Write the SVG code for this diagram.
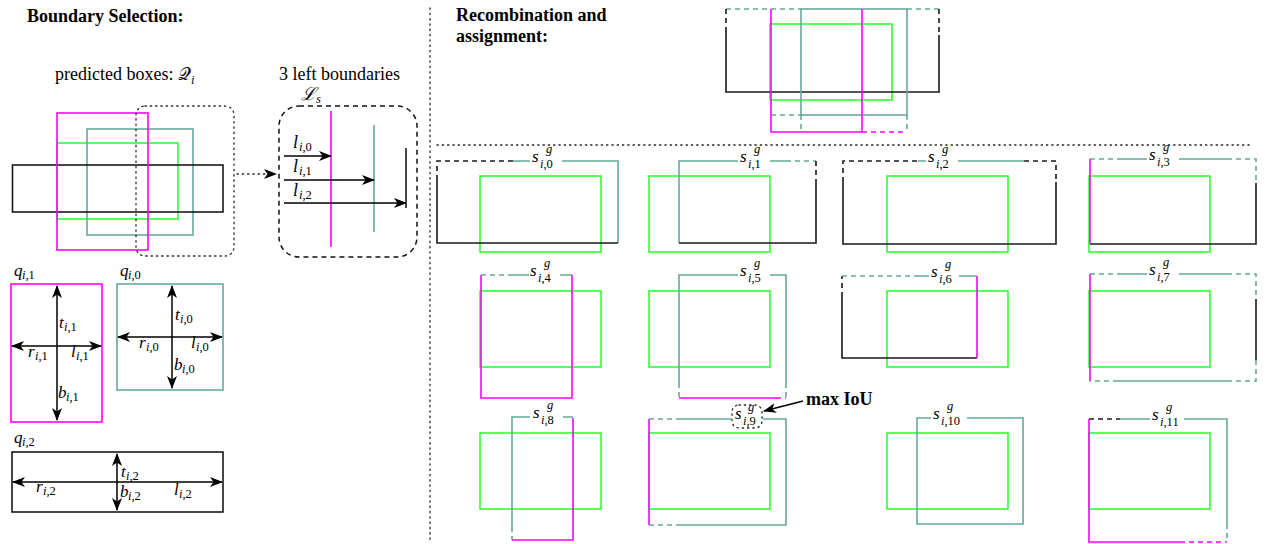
<svg xmlns="http://www.w3.org/2000/svg" width="1266" height="544" viewBox="0 0 1266 544">
<defs>
<marker id="ah" markerUnits="userSpaceOnUse" markerWidth="13" markerHeight="10" refX="12" refY="5" orient="auto-start-reverse" viewBox="0 0 13 10">
<path d="M0,0 L13,5 L0,10 L3.5,5 z" fill="#000"/>
</marker>
</defs>
<style>
.k{fill:none;stroke:#1a1a1a;stroke-width:1.6}
.kd{fill:none;stroke:#1a1a1a;stroke-width:1.6;stroke-dasharray:5 4}
.m{fill:none;stroke:#ff00ff;stroke-width:1.6}
.md{fill:none;stroke:#ff00ff;stroke-width:1.6;stroke-dasharray:5 4}
.t{fill:none;stroke:#66a99b;stroke-width:1.6}
.td{fill:none;stroke:#66a99b;stroke-width:1.6;stroke-dasharray:5 4}
.g{fill:none;stroke:#33ff33;stroke-width:1.6}
.ar{fill:none;stroke:#000;stroke-width:1.5;marker-end:url(#ah)}
.ar2{fill:none;stroke:#000;stroke-width:1.5;marker-end:url(#ah);marker-start:url(#ah)}
.dot{fill:none;stroke:#222;stroke-width:1.3;stroke-dasharray:1.3 4;stroke-linecap:round}
.ti{font-family:"Liberation Serif",serif;font-weight:bold;font-size:18px;fill:#000}
.tx{font-family:"Liberation Serif",serif;font-size:18px;fill:#000}
.mi{font-family:"Liberation Serif",serif;font-style:italic;font-size:18px;fill:#000}
.ms{font-family:"Liberation Serif",serif;font-style:italic;font-size:17px;fill:#000}
.sb{font-family:"Liberation Serif",serif;font-style:italic;font-size:12.5px;fill:#000}
.up{font-style:normal}
</style>
<rect width="1266" height="544" fill="#fff"/>

<g id="titles">
<text class="ti" x="27" y="22">Boundary Selection:</text>
<text class="tx" x="55" y="80">predicted boxes: 𝒬<tspan class="sb" dy="4">i</tspan></text>
<text class="tx" x="279" y="80">3 left boundaries</text>
<text class="ti" x="456" y="21">Recombination and</text>
<text class="ti" x="456" y="42">assignment:</text>
</g>

<g id="predicted-boxes">
<rect class="g" x="57" y="143" width="121" height="76"/>
<rect class="t" x="87" y="129" width="106" height="106"/>
<rect class="k" x="12.5" y="165" width="210.5" height="47"/>
<rect class="m" x="57" y="113" width="91" height="137"/>
<rect class="dot" x="136" y="106" width="98" height="150" rx="9"/>
</g>

<g id="left-boundaries">
<rect fill="none" stroke="#111" stroke-width="1.5" stroke-dasharray="5 4" x="279" y="106" width="138" height="151" rx="20"/>
<text class="mi" x="301" y="100">ℒ<tspan class="sb" dy="3">s</tspan></text>
<line class="m" x1="331" y1="111" x2="331" y2="247"/>
<line class="t" x1="374" y1="125" x2="374" y2="232"/>
<line class="k" x1="406" y1="148" x2="406" y2="208" stroke-width="2"/>
<line class="ar" x1="284" y1="156" x2="331" y2="156"/>
<line class="ar" x1="284" y1="180" x2="374" y2="180" stroke-width="1.3"/>
<line class="ar" x1="284" y1="203" x2="406" y2="203" stroke-width="2.2"/>
<text class="mi" x="293" y="148">l</text><text class="sb" x="299" y="151">i<tspan class="up">,0</tspan></text>
<text class="mi" x="293" y="172">l</text><text class="sb" x="299" y="175">i<tspan class="up">,1</tspan></text>
<text class="mi" x="293" y="196">l</text><text class="sb" x="299" y="199">i<tspan class="up">,2</tspan></text>
</g>

<g id="q1">
<text class="ms" x="14" y="276">q</text><text class="sb" x="22" y="279">i<tspan class="up">,1</tspan></text>
<rect class="m" x="11" y="284" width="91" height="138"/>
<line class="ar2" x1="57" y1="286" x2="57" y2="420"/>
<line class="ar2" x1="12" y1="346" x2="101" y2="346"/>
<text class="ms" x="59" y="328">t</text><text class="sb" x="64" y="331">i<tspan class="up">,1</tspan></text>
<text class="ms" x="28" y="357">r</text><text class="sb" x="35" y="360">i<tspan class="up">,1</tspan></text>
<text class="ms" x="71" y="357">l</text><text class="sb" x="76" y="360">i<tspan class="up">,1</tspan></text>
<text class="ms" x="58" y="398">b</text><text class="sb" x="66" y="401">i<tspan class="up">,1</tspan></text>
</g>

<g id="q0">
<text class="ms" x="120" y="276">q</text><text class="sb" x="128" y="279">i<tspan class="up">,0</tspan></text>
<rect class="t" x="117" y="284" width="106" height="106"/>
<line class="ar2" x1="172" y1="286" x2="172" y2="388"/>
<line class="ar2" x1="118" y1="337" x2="222" y2="337"/>
<text class="ms" x="175" y="320">t</text><text class="sb" x="180" y="323">i<tspan class="up">,0</tspan></text>
<text class="ms" x="139" y="348">r</text><text class="sb" x="146" y="351">i<tspan class="up">,0</tspan></text>
<text class="ms" x="191" y="348">l</text><text class="sb" x="196" y="351">i<tspan class="up">,0</tspan></text>
<text class="ms" x="174" y="370">b</text><text class="sb" x="182" y="373">i<tspan class="up">,0</tspan></text>
</g>

<g id="q2">
<text class="ms" x="14" y="443">q</text><text class="sb" x="22" y="446">i<tspan class="up">,2</tspan></text>
<rect class="k" x="12" y="452" width="211" height="60"/>
<line class="ar2" x1="117" y1="454" x2="117" y2="510"/>
<line class="ar2" x1="13" y1="482" x2="222" y2="482"/>
<text class="ms" x="121" y="477">t</text><text class="sb" x="126" y="480">i<tspan class="up">,2</tspan></text>
<text class="ms" x="36" y="492">r</text><text class="sb" x="43" y="495">i<tspan class="up">,2</tspan></text>
<text class="ms" x="120" y="497">b</text><text class="sb" x="128" y="500">i<tspan class="up">,2</tspan></text>
<text class="ms" x="174" y="495">l</text><text class="sb" x="179" y="498">i<tspan class="up">,2</tspan></text>
</g>

<g id="composite">
<rect class="g" x="770" y="24" width="122" height="76"/>
<path class="td" d="M726,9 H801 M907,9 H939"/>
<path class="kd" d="M726,9 V31 M939,9 V35"/>
<path class="k" d="M726,31 V92 H939 V35"/>
<rect class="t" x="801" y="9" width="106" height="106"/>
<path class="td" d="M771,115 H801 M801,115 V132 M907,115 V132"/>
<path class="m" d="M771,9 V132 H862 M862,9 V132"/>
<path class="md" d="M862,132 H907"/>
</g>

<g id="s0">
<rect class="g" x="480" y="176" width="121" height="76"/>
<path class="kd" d="M437,180 V161 H513"/>
<path class="t" d="M513,161 H530 M562,161 H618 V243"/>
<path class="k" d="M437,180 V243 H618"/>
<text class="ms" x="532" y="162">s</text><text class="sb" x="546" y="153">g</text><text class="sb" x="540" y="168">i<tspan class="up">,0</tspan></text>
</g>
<g id="s1">
<rect class="g" x="649" y="176" width="121" height="76"/>
<path class="t" d="M738,161 H679 V243 M770,161 H786"/>
<path class="td" d="M786,161 H816"/>
<path class="kd" d="M816,161 V180"/>
<path class="k" d="M816,180 V243 H679"/>
<text class="ms" x="740" y="162">s</text><text class="sb" x="754" y="153">g</text><text class="sb" x="748" y="168">i<tspan class="up">,1</tspan></text>
</g>
<g id="s2">
<rect class="g" x="887" y="176" width="121" height="76"/>
<path class="kd" d="M843,182 V161 H918 M1024,161 H1056 V182"/>
<path class="t" d="M918,161 H926 M958,161 H1024"/>
<path class="k" d="M843,182 V244 H1056 V182"/>
<text class="ms" x="928" y="162">s</text><text class="sb" x="942" y="153">g</text><text class="sb" x="936" y="168">i<tspan class="up">,2</tspan></text>
</g>
<g id="s3">
<rect class="g" x="1089" y="176" width="121" height="76"/>
<path class="td" d="M1090,159 H1120 M1227,159 H1256 V183"/>
<path class="t" d="M1120,159 H1147 M1179,159 H1227"/>
<path class="k" d="M1090,244 H1256 V183"/>
<path class="m" d="M1090,159 V244"/>
<text class="ms" x="1149" y="160">s</text><text class="sb" x="1163" y="151">g</text><text class="sb" x="1157" y="166">i<tspan class="up">,3</tspan></text>
</g>

<g id="s4">
<rect class="g" x="480" y="291" width="121" height="76"/>
<path class="td" d="M481,275 H510"/>
<path class="t" d="M510,275 H529 M560,275 H572"/>
<path class="m" d="M481,275 V398 H572 V275"/>
<text class="ms" x="530" y="276">s</text><text class="sb" x="544" y="267">g</text><text class="sb" x="538" y="282">i<tspan class="up">,4</tspan></text>
</g>
<g id="s5">
<rect class="g" x="649" y="291" width="121" height="76"/>
<path class="t" d="M738,275 H679 V383 M770,275 H786 V383"/>
<path class="td" d="M679,383 V398 M786,383 V398"/>
<path class="m" d="M679,398 H776"/>
<path class="md" d="M776,398 H786"/>
<text class="ms" x="740" y="276">s</text><text class="sb" x="754" y="267">g</text><text class="sb" x="748" y="282">i<tspan class="up">,5</tspan></text>
</g>
<g id="s6">
<rect class="g" x="887" y="291" width="121" height="76"/>
<path class="kd" d="M842,297 V276"/>
<path class="td" d="M842,276 H917"/>
<path class="t" d="M917,276 H929 M959,276 H977"/>
<path class="k" d="M842,297 V358 H977"/>
<path class="m" d="M977,276 V358"/>
<text class="ms" x="931" y="277">s</text><text class="sb" x="945" y="268">g</text><text class="sb" x="939" y="283">i<tspan class="up">,6</tspan></text>
</g>
<g id="s7">
<rect class="g" x="1089" y="291" width="121" height="76"/>
<path class="td" d="M1090,274 H1118 M1227,274 H1256 V299 M1256,360 V381 H1227 M1118,381 H1090"/>
<path class="t" d="M1118,274 H1147 M1179,274 H1227 M1118,381 H1227"/>
<path class="k" d="M1256,299 V360"/>
<path class="m" d="M1090,274 V381"/>
<text class="ms" x="1149" y="275">s</text><text class="sb" x="1163" y="266">g</text><text class="sb" x="1157" y="281">i<tspan class="up">,7</tspan></text>
</g>

<g id="s8">
<rect class="g" x="480" y="433" width="121" height="76"/>
<path class="t" d="M530,417 H512 V527 M563,417 H573"/>
<path class="td" d="M512,527 V540"/>
<path class="m" d="M573,418 V540 H512"/>
<text class="ms" x="533" y="418">s</text><text class="sb" x="547" y="409">g</text><text class="sb" x="541" y="424">i<tspan class="up">,8</tspan></text>
</g>
<g id="s9">
<rect class="g" x="649" y="433" width="121" height="76"/>
<path class="td" d="M649,419 H679 M649,525 H679"/>
<path class="t" d="M679,419 H731 M763,419 H786 V525 H679"/>
<path class="m" d="M649,419 V525"/>
<rect class="dot" x="732" y="405" width="30" height="23" rx="7"/>
<text class="ms" x="735" y="419">s</text><text class="sb" x="748" y="411">g</text><text class="sb" x="743" y="425">i<tspan class="up">,9</tspan></text>
</g>
<g id="s10">
<rect class="g" x="887" y="433" width="121" height="76"/>
<path class="t" d="M931,418 H917 V524 H1023 V418 H967"/>
<text class="ms" x="933" y="419">s</text><text class="sb" x="947" y="410">g</text><text class="sb" x="941" y="425">i<tspan class="up">,10</tspan></text>
</g>
<g id="s11">
<rect class="g" x="1089" y="433" width="121" height="76"/>
<path class="kd" d="M1089,419 H1120"/>
<path class="t" d="M1120,419 H1150 M1184,419 H1227 V524"/>
<path class="td" d="M1227,524 V542"/>
<path class="m" d="M1089,419 V542 H1180"/>
<path class="md" d="M1180,542 H1227"/>
<text class="ms" x="1152" y="420">s</text><text class="sb" x="1166" y="411">g</text><text class="sb" x="1160" y="426">i<tspan class="up">,11</tspan></text>
</g>

<g id="connectors">
<line class="dot" x1="430" y1="8" x2="430" y2="541"/>
<line class="dot" x1="437" y1="145" x2="1252" y2="145"/>
<line class="dot" x1="237" y1="174" x2="268" y2="174"/>
<path d="M264,169 L277,174 L264,179 L267.5,174 z" fill="#000"/>
<line class="ar" x1="803" y1="401" x2="764" y2="411"/>
<text class="ti" x="806" y="405">max IoU</text>
</g>
</svg>
